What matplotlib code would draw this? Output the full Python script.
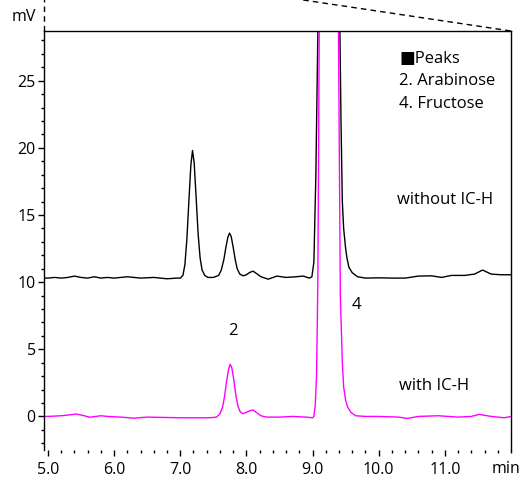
import matplotlib
matplotlib.use("Agg")
import matplotlib.pyplot as plt
from matplotlib.ticker import MultipleLocator, FixedLocator

plt.rcParams['font.family'] = ['Open Sans', 'DejaVu Sans']

# ---- data (time in min, signal in mV) ----
black_t = [4.94, 5.0, 5.1, 5.2, 5.3, 5.4, 5.5, 5.6, 5.7, 5.8, 5.9, 6.0, 6.2, 6.4, 6.6, 6.8, 6.95,
           7.0, 7.04, 7.07, 7.10, 7.13, 7.16, 7.185, 7.21, 7.24, 7.27, 7.30, 7.33, 7.37, 7.42,
           7.5, 7.58, 7.62, 7.66, 7.69, 7.72, 7.745, 7.77, 7.80, 7.83, 7.86, 7.9, 7.95, 8.0, 8.05, 8.1,
           8.15, 8.22, 8.33, 8.46, 8.6, 8.75, 8.86, 8.95, 8.99,
           9.02, 9.05, 9.07, 9.09, 9.15, 9.25, 9.35, 9.41, 9.43, 9.45, 9.47, 9.5, 9.52, 9.55, 9.6, 9.68,
           9.8, 10.0, 10.2, 10.4, 10.6, 10.8, 10.95, 11.1, 11.3, 11.45, 11.57, 11.7, 11.85, 12.0]
black_v = [10.3, 10.3, 10.35, 10.3, 10.35, 10.45, 10.35, 10.3, 10.4, 10.3, 10.35, 10.3, 10.4, 10.3, 10.35, 10.25, 10.3,
           10.3, 10.5, 11.3, 13.2, 16.0, 18.7, 19.8, 18.9, 16.3, 13.6, 11.8, 10.9, 10.5, 10.35,
           10.35, 10.5, 10.9, 11.7, 12.6, 13.35, 13.65, 13.4, 12.6, 11.7, 11.0, 10.6, 10.47, 10.55, 10.72, 10.82,
           10.65, 10.4, 10.22, 10.45, 10.35, 10.4, 10.45, 10.3, 10.4,
           11.5, 18.0, 25.0, 32.0, 70.0, 150.0, 70.0, 30.0, 22.0, 16.0, 14.0, 12.5, 11.8, 11.1, 10.7, 10.4,
           10.3, 10.32, 10.3, 10.3, 10.45, 10.47, 10.35, 10.5, 10.5, 10.6, 10.9, 10.6, 10.55, 10.55]

magenta_t = [4.94, 5.0, 5.2, 5.3, 5.43, 5.55, 5.63, 5.8, 5.9, 6.1, 6.3, 6.5, 6.8, 7.0, 7.2, 7.45,
             7.55, 7.6, 7.64, 7.67, 7.70, 7.73, 7.755, 7.78, 7.81, 7.84, 7.87, 7.9, 7.94, 8.0, 8.05, 8.1,
             8.15, 8.22, 8.3, 8.5, 8.7, 8.9, 9.0,
             9.02, 9.04, 9.06, 9.08, 9.1, 9.13, 9.2, 9.25, 9.3, 9.36, 9.39, 9.42, 9.45, 9.47, 9.5,
             9.53, 9.58, 9.65, 9.8, 10.0, 10.3, 10.43, 10.6, 10.9, 11.2, 11.4, 11.52, 11.7, 11.9, 12.0]
magenta_v = [0.0, 0.0, 0.05, 0.1, 0.18, 0.05, -0.06, 0.05, 0.0, -0.05, -0.13, -0.05, -0.08, -0.1, -0.1, -0.1,
             -0.05, 0.2, 0.7, 1.5, 2.6, 3.5, 3.88, 3.6, 2.7, 1.6, 0.8, 0.4, 0.2, 0.3, 0.42, 0.48,
             0.3, 0.05, -0.05, -0.05, 0.0, -0.05, -0.1,
             0.0, 0.8, 3.0, 10.0, 28.0, 60.0, 120.0, 140.0, 120.0, 60.0, 30.0, 9.0, 4.0, 2.2, 1.2,
             0.7, 0.3, 0.05, 0.0, 0.0, -0.05, -0.15, 0.0, 0.05, -0.05, 0.0, 0.15, 0.0, -0.1, 0.0]

x_major = [5.0, 6.0, 7.0, 8.0, 9.0, 10.0, 11.0]
x_labels = ["5.0", "6.0", "7.0", "8.0", "9.0", "10.0", "11.0"]
y_major = [0, 5, 10, 15, 20, 25]

fig = plt.figure(figsize=(5.21, 4.8), dpi=100)
ax = fig.add_axes([44/521, 1 - 450/480, (511-44)/521, (450-31)/480])

ax.plot(black_t, black_v, color='black', lw=1.0)
ax.plot(magenta_t, magenta_v, color='#ff00ff', lw=1.0)

ax.set_xlim(4.94, 12.0)
ax.set_ylim(-2.5, 28.7)

ax.xaxis.set_major_locator(FixedLocator(x_major))
ax.set_xticklabels(x_labels)
ax.xaxis.set_minor_locator(MultipleLocator(0.2))
ax.yaxis.set_major_locator(FixedLocator(y_major))
ax.yaxis.set_minor_locator(MultipleLocator(1))

ax.tick_params(axis='both', which='both', direction='out', colors='black', width=1.0)
ax.tick_params(axis='both', which='major', labelsize=11.5)
ax.tick_params(axis='x', which='major', length=4, pad=5)
ax.tick_params(axis='x', which='minor', length=2.5)
ax.tick_params(axis='y', which='major', length=4, pad=2)
ax.tick_params(axis='y', which='minor', length=2.5)

for s in ['left', 'right', 'top']:
    ax.spines[s].set_linewidth(1.0)
ax.spines['bottom'].set_visible(False)

# texts
ax.text(-0.043, 1.033, "mV", transform=ax.transAxes, ha='center', va='center', fontsize=11.5)
ax.annotate("min", xy=(11.92, 0), xycoords=('data', 'axes fraction'), xytext=(0, -13.5),
            textcoords='offset points', ha='center', va='center', fontsize=11.5)

fs = 12
ax.text(10.31, 26.65, "\u25A0Peaks", ha='left', va='center', fontsize=fs)
ax.text(10.30, 24.95, "2. Arabinose", ha='left', va='center', fontsize=fs)
ax.text(10.30, 23.3, "4. Fructose", ha='left', va='center', fontsize=fs)
ax.text(10.28, 16.1, "without IC-H", ha='left', va='center', fontsize=fs)
ax.text(10.30, 2.25, "with IC-H", ha='left', va='center', fontsize=fs)
ax.text(7.80, 6.36, "2", ha='center', va='center', fontsize=fs)
ax.text(9.67, 8.29, "4", ha='center', va='center', fontsize=fs)

# zoom-indicator dashed lines above the plot
ax.plot([0, 0], [1, 1.08], transform=ax.transAxes, color='black', lw=1.0,
        ls=(0, (4, 3)), clip_on=False)
ax.plot([0.555, 1.0], [1.074, 1.0], transform=ax.transAxes, color='black', lw=1.0,
        ls=(0, (4, 3)), clip_on=False)

fig.savefig("out.png", dpi=100)
